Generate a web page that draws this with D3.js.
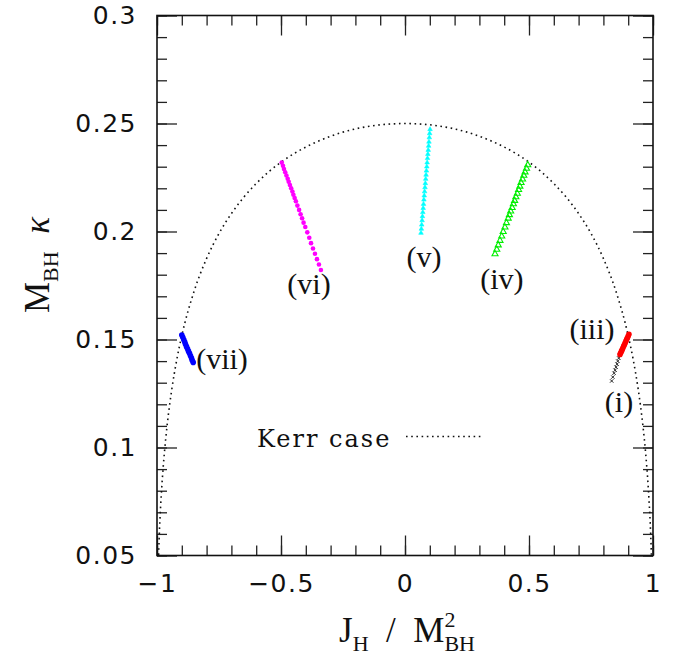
<!DOCTYPE html>
<html>
<head>
<meta charset="utf-8">
<script src="https://cdn.jsdelivr.net/npm/d3@7"></script>
<style>
  html, body { margin: 0; padding: 0; background: #fff; }
  svg { display: block; }
</style>
</head>
<body>
<svg id="chart" width="679" height="660"></svg>
<script>
// Kerr black holes: horizon surface gravity vs. spin
const kerrSpin  = [-0.995, -0.99, -0.985, -0.98, -0.97, -0.96, -0.95, -0.94, -0.92, -0.9, -0.85, -0.8, -0.75, -0.7, -0.65, -0.6, -0.55, -0.5, -0.45, -0.4, -0.35, -0.3, -0.25, -0.2, -0.15, -0.1, -0.05, 0,
                   0.05, 0.1, 0.15, 0.2, 0.25, 0.3, 0.35, 0.4, 0.45, 0.5, 0.55, 0.6, 0.65, 0.7, 0.75, 0.8, 0.85, 0.9, 0.92, 0.94, 0.95, 0.96, 0.97, 0.98, 0.985, 0.99, 0.995];
const kerrKappa = [0.0454, 0.0618, 0.0736, 0.0830, 0.0978, 0.1094, 0.1190, 0.1272, 0.1408, 0.1518, 0.1725, 0.1875, 0.1991, 0.2083, 0.2159, 0.2222, 0.2276, 0.2321, 0.2359, 0.2391, 0.2418, 0.2441, 0.2460, 0.2475, 0.2486, 0.2494, 0.2498, 0.2500,
                   0.2498, 0.2494, 0.2486, 0.2475, 0.2460, 0.2441, 0.2418, 0.2391, 0.2359, 0.2321, 0.2276, 0.2222, 0.2159, 0.2083, 0.1991, 0.1875, 0.1725, 0.1518, 0.1408, 0.1272, 0.1190, 0.1094, 0.0978, 0.0830, 0.0736, 0.0618, 0.0454];

// Hairy black hole sequences (i)-(vii)
const seqI_J   = [0.866, 0.862, 0.858, 0.855, 0.851, 0.847, 0.843, 0.838, 0.8334];
const seqI_K   = [0.1428, 0.1414, 0.1400, 0.1386, 0.1372, 0.1358, 0.1344, 0.1326, 0.1308];

const seqIII_J = [0.903, 0.900, 0.897, 0.894, 0.891, 0.888, 0.885, 0.882, 0.879, 0.876, 0.873, 0.870, 0.867];
const seqIII_K = [0.1524, 0.1516, 0.1508, 0.1501, 0.1493, 0.1485, 0.1477, 0.1470, 0.1462, 0.1454, 0.1446, 0.1439, 0.1431];

const seqIV_J  = [0.495, 0.490, 0.484, 0.479, 0.474, 0.468, 0.463, 0.458, 0.453, 0.447, 0.442, 0.437, 0.432, 0.426, 0.421, 0.416, 0.409, 0.403, 0.396, 0.390, 0.383, 0.376, 0.370, 0.363];
const seqIV_K  = [0.2308, 0.2292, 0.2275, 0.2259, 0.2242, 0.2226, 0.2209, 0.2193, 0.2176, 0.2160, 0.2143, 0.2127, 0.2110, 0.2094, 0.2077, 0.2061, 0.2040, 0.2020, 0.1999, 0.1978, 0.1958, 0.1937, 0.1917, 0.1896];

const seqV_J   = [0.1010, 0.0995, 0.0981, 0.0966, 0.0952, 0.0937, 0.0922, 0.0908, 0.0893, 0.0879, 0.0864, 0.0849, 0.0835, 0.0820, 0.0806, 0.0791, 0.0776, 0.0762, 0.0747, 0.0733, 0.0718, 0.0703, 0.0689, 0.0674, 0.0660, 0.0645];
const seqV_K   = [0.2473, 0.2454, 0.2435, 0.2415, 0.2396, 0.2377, 0.2358, 0.2339, 0.2319, 0.2300, 0.2281, 0.2262, 0.2243, 0.2223, 0.2204, 0.2185, 0.2166, 0.2147, 0.2127, 0.2108, 0.2089, 0.2070, 0.2051, 0.2031, 0.2012, 0.1993];

const seqVI_J  = [-0.497, -0.492, -0.488, -0.483, -0.478, -0.473, -0.469, -0.464, -0.459, -0.454, -0.450, -0.445, -0.440, -0.434, -0.427, -0.421, -0.415, -0.409, -0.402, -0.394, -0.386, -0.379, -0.371, -0.363, -0.355, -0.347, -0.339];
const seqVI_K  = [0.2319, 0.2304, 0.2289, 0.2274, 0.2259, 0.2244, 0.2230, 0.2215, 0.2200, 0.2185, 0.2170, 0.2155, 0.2140, 0.2120, 0.2100, 0.2080, 0.2061, 0.2041, 0.2021, 0.1996, 0.1971, 0.1946, 0.1921, 0.1897, 0.1872, 0.1847, 0.1822];

const seqVII_J = [-0.900, -0.896, -0.892, -0.888, -0.885, -0.881, -0.877, -0.873, -0.869, -0.865, -0.861, -0.858, -0.854];
const seqVII_K = [0.1521, 0.1510, 0.1499, 0.1488, 0.1478, 0.1467, 0.1457, 0.1446, 0.1436, 0.1425, 0.1414, 0.1404, 0.1394];

// Sequence labels and where they sit (J, kappa of the text baseline centre)
const seqNames  = ["(i)", "(iii)", "(iv)", "(v)", "(vi)", "(vii)"];
const seqLabelJ = [0.863, 0.754, 0.391, 0.0766, -0.387, -0.738];
const seqLabelK = [0.1164, 0.1503, 0.1734, 0.1836, 0.1712, 0.1362];

// Tick values
const xMajor = [-1, -0.5, 0, 0.5, 1];
const xMajorLabels = ["\u22121", "\u22120.5", "0", "0.5", "1"];
const yMajor = [0.05, 0.1, 0.15, 0.2, 0.25, 0.3];
const yMajorLabels = ["0.05", "0.1", "0.15", "0.2", "0.25", "0.3"];
const xMinor = d3.range(-10, 11).map(i => i / 10);
const yMinor = d3.range(5, 31).map(i => i / 100);

const svg = d3.select("#chart");
const L = 157, R = 653, T = 15.5, B = 555.5;

const x = d3.scaleLinear().domain([-1, 1]).range([L, R]);
const y = d3.scaleLinear().domain([0.05, 0.3]).range([B, T]);

const tickFont = "'DejaVu Sans', sans-serif";
const serif = "'Liberation Serif', 'DejaVu Serif', serif";

svg.append("defs").append("clipPath").attr("id", "plotClip")
  .append("rect").attr("x", L).attr("y", T).attr("width", R - L).attr("height", B - T);

// ticks on all four sides, pointing inward
function styleAxis(g) {
  g.select(".domain").remove();
  g.selectAll(".tick line").attr("stroke", "#222").attr("stroke-width", 1.3);
}

svg.append("g").attr("transform", `translate(0,${B})`)
  .call(d3.axisBottom(x).tickValues(xMinor).tickSize(-10).tickFormat(""))
  .call(styleAxis);
svg.append("g").attr("transform", `translate(0,${T})`)
  .call(d3.axisTop(x).tickValues(xMinor).tickSize(-10).tickFormat(""))
  .call(styleAxis);
svg.append("g").attr("transform", `translate(${L},0)`)
  .call(d3.axisLeft(y).tickValues(yMinor).tickSize(-10).tickFormat(""))
  .call(styleAxis);
svg.append("g").attr("transform", `translate(${R},0)`)
  .call(d3.axisRight(y).tickValues(yMinor).tickSize(-10).tickFormat(""))
  .call(styleAxis);

const xAxis = svg.append("g").attr("transform", `translate(0,${B})`)
  .call(d3.axisBottom(x).tickValues(xMajor).tickSize(-20).tickPadding(19)
    .tickFormat((d, i) => xMajorLabels[i]))
  .call(styleAxis);
svg.append("g").attr("transform", `translate(0,${T})`)
  .call(d3.axisTop(x).tickValues(xMajor).tickSize(-20).tickFormat(""))
  .call(styleAxis);
const yAxis = svg.append("g").attr("transform", `translate(${L},0)`)
  .call(d3.axisLeft(y).tickValues(yMajor).tickSize(-20).tickPadding(20)
    .tickFormat((d, i) => yMajorLabels[i]))
  .call(styleAxis);
svg.append("g").attr("transform", `translate(${R},0)`)
  .call(d3.axisRight(y).tickValues(yMajor).tickSize(-20).tickFormat(""))
  .call(styleAxis);

[xAxis, yAxis].forEach(g => g.selectAll(".tick text")
  .attr("font-family", tickFont).attr("font-size", 25).attr("fill", "#111")
  .attr("letter-spacing", 1.5));

// plot frame
svg.append("rect").attr("x", L).attr("y", T).attr("width", R - L).attr("height", B - T)
  .attr("fill", "none").attr("stroke", "#111").attr("stroke-width", 1.6);

// Kerr curve (dotted)
const kerrPts = kerrSpin.map((a, i) => [a, kerrKappa[i]]);
svg.append("path").datum(kerrPts)
  .attr("clip-path", "url(#plotClip)")
  .attr("d", d3.line().x(d => x(d[0])).y(d => y(d[1])).curve(d3.curveMonotoneX))
  .attr("fill", "none").attr("stroke", "#111").attr("stroke-width", 1.6)
  .attr("stroke-dasharray", "1.6 3.6");

// sequences
function pts(J, K) { return J.map((v, i) => [v, K[i]]); }
const plot = svg.append("g").attr("clip-path", "url(#plotClip)");

function dots(data, color, r) {
  plot.append("g").selectAll("circle").data(data).join("circle")
    .attr("cx", d => x(d[0])).attr("cy", d => y(d[1])).attr("r", r).attr("fill", color);
}
function symbols(data, type, size, fill, stroke, sw) {
  plot.append("g").selectAll("path").data(data).join("path")
    .attr("transform", d => `translate(${x(d[0])},${y(d[1])})`)
    .attr("d", d3.symbol().type(type).size(size))
    .attr("fill", fill).attr("stroke", stroke).attr("stroke-width", sw);
}

dots(pts(seqVI_J, seqVI_K), "#ff00ff", 2.3);
symbols(pts(seqV_J, seqV_K), d3.symbolTriangle, 9, "#00ffff", "#00ffff", 0.6);
symbols(pts(seqIV_J, seqIV_K), d3.symbolTriangle, 16, "none", "#00ee00", 1.1);
symbols(pts(seqI_J, seqI_K), d3.symbolX, 9, "none", "#111", 0.9);
dots(pts(seqIII_J, seqIII_K), "#ff0000", 2.8);
dots(pts(seqVII_J, seqVII_K), "#0000ff", 2.8);

// sequence labels
svg.append("g").selectAll("text").data(seqNames).join("text")
  .attr("x", (d, i) => x(seqLabelJ[i])).attr("y", (d, i) => y(seqLabelK[i]))
  .attr("text-anchor", "middle")
  .attr("font-family", serif).attr("font-size", 30).attr("fill", "#111")
  .text(d => d);

// legend
svg.append("text").attr("x", 257).attr("y", 447)
  .attr("font-family", "'DejaVu Serif', serif").attr("font-size", 24).attr("fill", "#111")
  .attr("letter-spacing", 2)
  .text("Kerr case");
svg.append("line").attr("x1", 406).attr("x2", 482).attr("y1", 436.5).attr("y2", 436.5)
  .attr("stroke", "#111").attr("stroke-width", 1.6).attr("stroke-dasharray", "1.6 3.6");

// x axis title: J_H / M_BH^2
const xt = svg.append("text").attr("x", 407).attr("y", 642)
  .attr("text-anchor", "middle").attr("font-family", serif).attr("font-size", 35).attr("fill", "#111");
xt.append("tspan").text("J");
xt.append("tspan").attr("font-size", 22).attr("dy", 9).text("H");
xt.append("tspan").attr("dy", -9).text("\u2002/\u2002M");
xt.append("tspan").attr("font-size", 22).attr("dy", -15).text("2");
xt.append("tspan").attr("font-size", 22).attr("dy", 24).attr("dx", -11).text("BH");

// y axis title: M_BH kappa
const yt = svg.append("text").attr("transform", "translate(49,265) rotate(-90)")
  .attr("text-anchor", "middle").attr("font-family", serif).attr("font-size", 35).attr("fill", "#111");
yt.append("tspan").text("M");
yt.append("tspan").attr("font-size", 22).attr("dy", 9).text("BH");
yt.append("tspan").attr("dy", -9).attr("font-style", "italic").text("\u2002\u03ba");
</script>
</body>
</html>
